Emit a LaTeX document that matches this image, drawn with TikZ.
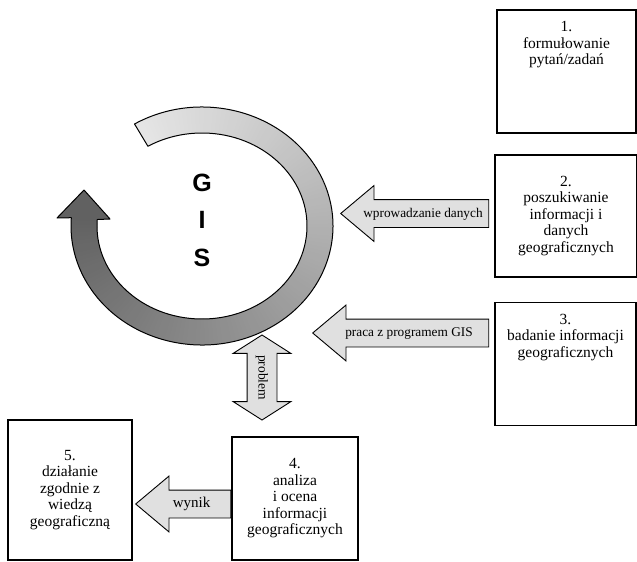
\documentclass[tikz,border=0pt]{standalone}
\usepackage{fontspec}
\setmainfont{Liberation Serif}
\newfontfamily\gisfont{Liberation Sans}
\usetikzlibrary{positioning,shapes.arrows}

\begin{document}
\begin{tikzpicture}[
    x=1pt, y=-1pt,
    box/.style={
        rectangle,
        draw=black,
        line width=1.6pt,
        minimum width=141pt,
        minimum height=123pt,
        inner sep=0pt,
        text centered,
        align=center,
        font=\fontsize{15.5}{16.5}\selectfont
    },
    boxtext/.style={
        anchor=north,
        align=center,
        inner sep=0pt,
        font=\fontsize{15.5}{16.5}\selectfont
    },
    flow/.style={
        single arrow,
        draw=black,
        fill=black!12,
        line width=0.9pt,
        shape border rotate=180,
        single arrow tip angle=80,
        single arrow head extend=14pt,
        inner xsep=2pt,
        inner ysep=7pt,
        text height=10pt,
        text depth=3pt,
        anchor=tip,
        font=\fontsize{13.3}{14}\selectfont
    },
    twoway/.style={
        double arrow,
        draw=black,
        fill=black!12,
        line width=0.9pt,
        rotate=-90,
        double arrow tip angle=115,
        double arrow head extend=14pt,
        minimum height=85pt,
        inner xsep=2pt,
        inner ysep=8pt,
        text height=10pt,
        text depth=3pt,
        font=\fontsize{13.5}{14}\selectfont
    },
]
    \useasboundingbox (0,0) rectangle (637,562);

    \coordinate (c) at (202,226);
    \begin{scope}[shift={(c)}]
        \foreach \a [evaluate=\a as \g using 10+52*(\a-239)/305] in {239,241,...,543}
            \fill[black!\g] (\a:131 and 119) -- (\a+2.5:131 and 119)
                -- (\a+2.5:105 and 93) -- (\a:105 and 93) -- cycle;
        \fill[black!62] (-145,-8) -- (-118,-36) -- (-92,-7) -- (-104.7,-6.5)
            -- (-130.7,-8.3) -- cycle;
        \draw[line width=1pt, line join=round] (239:131 and 119)
            arc[start angle=239, end angle=544, x radius=131, y radius=119]
            -- (-145,-8) -- (-118,-36) -- (-92,-7) -- (544:105 and 93)
            arc[start angle=544, end angle=239, x radius=105, y radius=93]
            -- cycle;
    \end{scope}
    \node (gis) [font=\gisfont\bfseries\fontsize{25}{37.5}\selectfont, align=center]
        at (202,220) {G\\I\\S};

    \node (b1) [box, minimum width=139pt] at (566.5,71.5) {};
    \node (t1) [boxtext] at ([yshift=-12pt]b1.north) {1.\\formułowanie\\pytań/zadań};
    \node (b2) [box, minimum width=142pt, minimum height=122pt] at (566,216)
        {2.\\poszukiwanie\\informacji i\\danych\\geograficznych};
    \node (b3) [box] at (565.5,364) {};
    \node (t3) [boxtext] at ([yshift=-12pt]b3.north) {3.\\badanie informacji\\geograficznych};
    \node (b4) [box, minimum width=126pt] at (295,498.5)
        {4.\\analiza\\i ocena\\informacji\\geograficznych};
    \node (b5) [box, minimum width=124pt, minimum height=140pt] at (70,490)
        {5.\\działanie\\zgodnie z\\wiedzą\\geograficzną};

    \node (a2) [flow, minimum height=148pt] at (340,213.5) {wprowadzanie danych};
    \node (a3) [flow, minimum height=176pt] at (312,333) {praca z programem GIS};
    \node (a4) [flow, minimum height=95pt, font=\fontsize{15}{16}\selectfont]
        at (135,504) {wynik};
    \node (a1) [twoway] at (262,377.5) {problem};
\end{tikzpicture}
\end{document}
